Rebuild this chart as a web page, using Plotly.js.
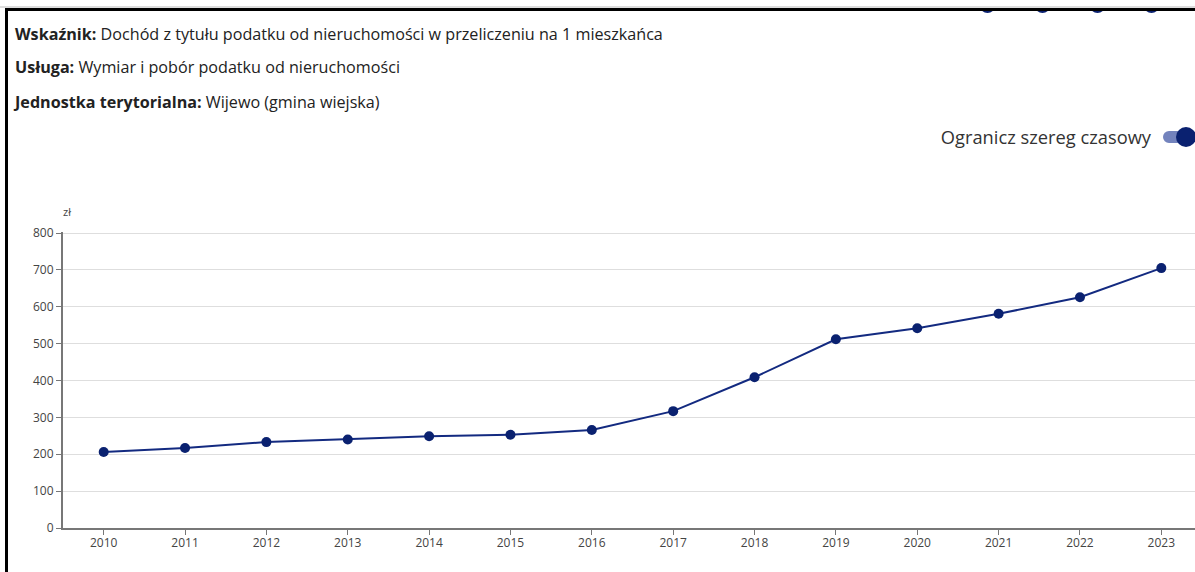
<!DOCTYPE html>
<html>
<head>
<meta charset="utf-8">
<script src="https://cdn.plot.ly/plotly-3.0.1.min.js"></script>
<style>
  html, body { margin:0; padding:0; width:1195px; height:572px; overflow:hidden; background:#fff; }
  body { position:relative; font-family:"Open Sans", sans-serif; color:#222; }
  #frame { position:absolute; left:5px; top:8px; width:1300px; height:700px; border-left:3px solid #000; border-top:3px solid #000; box-sizing:border-box; }
  #topgray { position:absolute; left:0; top:6px; width:1195px; height:2px; background:#ddd; }
  .dot { position:absolute; top:-17px; width:17px; height:19px; border-radius:50%; background:#0a2170; }
  #dotclip { position:absolute; left:0; top:11px; width:1195px; height:3px; overflow:hidden; }
  .hdr { position:absolute; left:15px; font-size:16.15px; white-space:nowrap; color:#222; }
  .hdr b { font-weight:700; }
  #toggleLabel { position:absolute; right:44px; top:124px; font-size:18.3px; color:#333; white-space:nowrap; }
  #track { position:absolute; left:1163px; top:131px; width:34px; height:12px; border-radius:6px; background:#7383bd; }
  #knob { position:absolute; left:1176px; top:127px; width:20px; height:20px; border-radius:50%; background:#0a2170; }
  #chart { position:absolute; left:0; top:0; width:1202px; height:572px; }
</style>
</head>
<body>
<div id="topgray"></div>
<div id="dotclip">
  <div class="dot" style="left:979px"></div>
  <div class="dot" style="left:1034px"></div>
  <div class="dot" style="left:1089px"></div>
  <div class="dot" style="left:1143px"></div>
</div>
<div id="frame"></div>
<div id="chart"></div>
<div class="hdr" style="top:23px"><b>Wskaźnik:</b> Dochód z tytułu podatku od nieruchomości w przeliczeniu na 1 mieszkańca</div>
<div class="hdr" style="top:56px"><b>Usługa:</b> Wymiar i pobór podatku od nieruchomości</div>
<div class="hdr" style="top:91px"><b>Jednostka terytorialna:</b> Wijewo (gmina wiejska)</div>
<div id="toggleLabel">Ogranicz szereg czasowy</div>
<div id="track"></div>
<div id="knob"></div>
<script>
const years = [2010, 2011, 2012, 2013, 2014, 2015, 2016, 2017, 2018, 2019, 2020, 2021, 2022, 2023];
const values = [206, 217, 233, 240, 249, 253, 266, 317, 409, 512, 542, 581, 626, 705];
const yTicks = [0, 100, 200, 300, 400, 500, 600, 700, 800];
const unitLabel = "zł";

const trace = {
  x: years,
  y: values,
  type: 'scatter',
  mode: 'lines+markers',
  line: { color: '#132a80', width: 2 },
  marker: { color: '#0a2170', size: 10, line: { color: '#0a2170', width: 0 } },
  hoverinfo: 'x+y'
};

const layout = {
  width: 1202,
  height: 572,
  margin: { l: 63, r: 0, t: 232, b: 44, pad: 0 },
  paper_bgcolor: 'rgba(0,0,0,0)',
  plot_bgcolor: 'rgba(0,0,0,0)',
  showlegend: false,
  font: { family: '"Open Sans", sans-serif', size: 12, color: '#444' },
  xaxis: {
    range: [2009.5, 2023.5],
    tickmode: 'array',
    tickvals: years,
    ticktext: years.map(String),
    showgrid: false,
    zeroline: false,
    showline: true,
    linecolor: '#777',
    linewidth: 2,
    ticks: 'outside',
    ticklen: 5,
    tickcolor: '#777',
    ticklabelstandoff: -2,
    tickfont: { size: 12, color: '#444' },
    fixedrange: true
  },
  yaxis: {
    range: [0, 803],
    tickmode: 'array',
    tickvals: yTicks,
    ticktext: yTicks.map(String),
    showgrid: true,
    gridcolor: '#dedede',
    gridwidth: 1,
    zeroline: false,
    showline: true,
    linecolor: '#777',
    linewidth: 2,
    ticks: 'outside',
    ticklen: 5,
    tickcolor: '#777',
    tickfont: { size: 12, color: '#444' },
    fixedrange: true
  },
  annotations: [{
    text: unitLabel,
    xref: 'paper', yref: 'paper',
    x: 0, y: 1,
    xanchor: 'center', yanchor: 'bottom',
    xshift: 4, yshift: 11,
    showarrow: false,
    font: { size: 11, color: '#444' }
  }]
};

Plotly.newPlot('chart', [trace], layout, { displayModeBar: false, staticPlot: true });
</script>
</body>
</html>
